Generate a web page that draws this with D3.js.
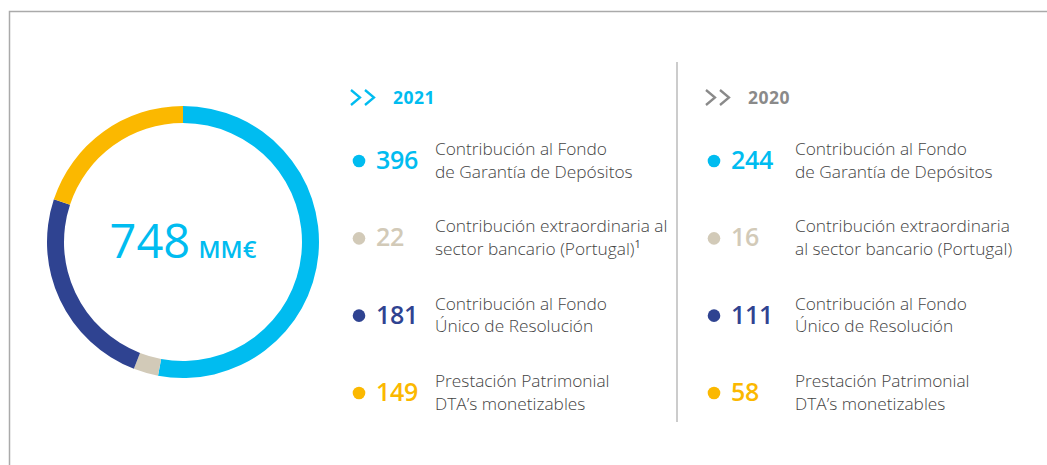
<!DOCTYPE html>
<html><head><meta charset="utf-8">
<script src="https://cdn.jsdelivr.net/npm/d3@7"></script>
<style>
html,body{margin:0;padding:0;background:#fff;}
svg{display:block;font-family:"Open Sans",sans-serif;}
</style></head>
<body><svg id="c" width="1047" height="465"></svg>
<script>
const categories = ["Contribución al Fondo de Garantía de Depósitos","Contribución extraordinaria al sector bancario (Portugal)","Contribución al Fondo Único de Resolución","Prestación Patrimonial DTA's monetizables"];
const colors = ["#00BCF0","#D2CAB8","#2F4391","#FBB800"];
const values2021 = [396, 22, 181, 149];
const values2020 = [244, 16, 111, 58];
const labels2021 = [["Contribución al Fondo","de Garantía de Depósitos"],["Contribución extraordinaria al","sector bancario (Portugal)"],["Contribución al Fondo","Único de Resolución"],["Prestación Patrimonial","DTA’s monetizables"]];
const labels2020 = [["Contribución al Fondo","de Garantía de Depósitos"],["Contribución extraordinaria","al sector bancario (Portugal)"],["Contribución al Fondo","Único de Resolución"],["Prestación Patrimonial","DTA’s monetizables"]];
const years = ["2021","2020"];
const totalLabel = "748";
const unitLabel = "MM€";

const svg = d3.select("#c");

// frame
svg.append("path").attr("d","M9.5,465 V11.5 H1047").attr("fill","none").attr("stroke","#aaa").attr("stroke-width",1.5);
svg.append("line").attr("x1",677).attr("x2",677).attr("y1",62).attr("y2",422).attr("stroke","#bbb").attr("stroke-width",1.5);

// donut
const cx=183, cy=242;
const pie = d3.pie().sort(null).value(d=>d);
const arc = d3.arc().innerRadius(119).outerRadius(136);
const g = svg.append("g").attr("transform",`translate(${cx},${cy})`);
g.selectAll("path").data(pie(values2021)).join("path")
  .attr("d",arc).attr("fill",(d,i)=>colors[i]);
const t = svg.append("text").attr("x",cx).attr("y",258).attr("text-anchor","middle").attr("fill",colors[0]);
t.append("tspan").text(totalLabel).attr("font-size",47).attr("font-weight",500);
t.append("tspan").text(" "+unitLabel).attr("font-size",24).attr("font-weight",600).attr("dx",2);

// legends
const rowY = d3.scalePoint().domain(d3.range(4)).range([161,393]);
function legend(x0, year, values, labels, headColor, labelX){
  const lg = svg.append("g").attr("transform",`translate(${x0},0)`);
  [0,14].forEach(dx=>{
    lg.append("path").attr("d",`M${dx+1},90 L${dx+10},97.5 L${dx+1},105`)
      .attr("fill","none").attr("stroke",headColor).attr("stroke-width",2.3);
  });
  lg.append("text").attr("x",43).attr("y",104).text(year)
    .attr("font-size",17.5).attr("font-weight",700).attr("fill",headColor).attr("letter-spacing",0.5);
  values.forEach((v,i)=>{
    const y = rowY(i);
    lg.append("circle").attr("cx",9).attr("cy",y).attr("r",6.3).attr("fill",colors[i]);
    lg.append("text").attr("x",26).attr("y",y+8).text(v)
      .attr("font-size",25).attr("font-weight",600).attr("fill",colors[i]).attr("letter-spacing",-0.3);
    labels[i].forEach((l,j)=>{
      const tx = lg.append("text").attr("x",labelX).attr("y",y-6+j*22.5)
        .attr("font-size",17.3).attr("font-weight",300).attr("fill","#444").text(l);
      if(year==="2021" && i===1 && j===1){
        tx.append("tspan").text("1").attr("font-size",11).attr("font-weight",400).attr("dy",-7);
      }
    });
  });
}
legend(350, years[0], values2021, labels2021, "#00BCF0", 85);
legend(705, years[1], values2020, labels2020, "#8a8a8a", 90);
</script></body></html>
